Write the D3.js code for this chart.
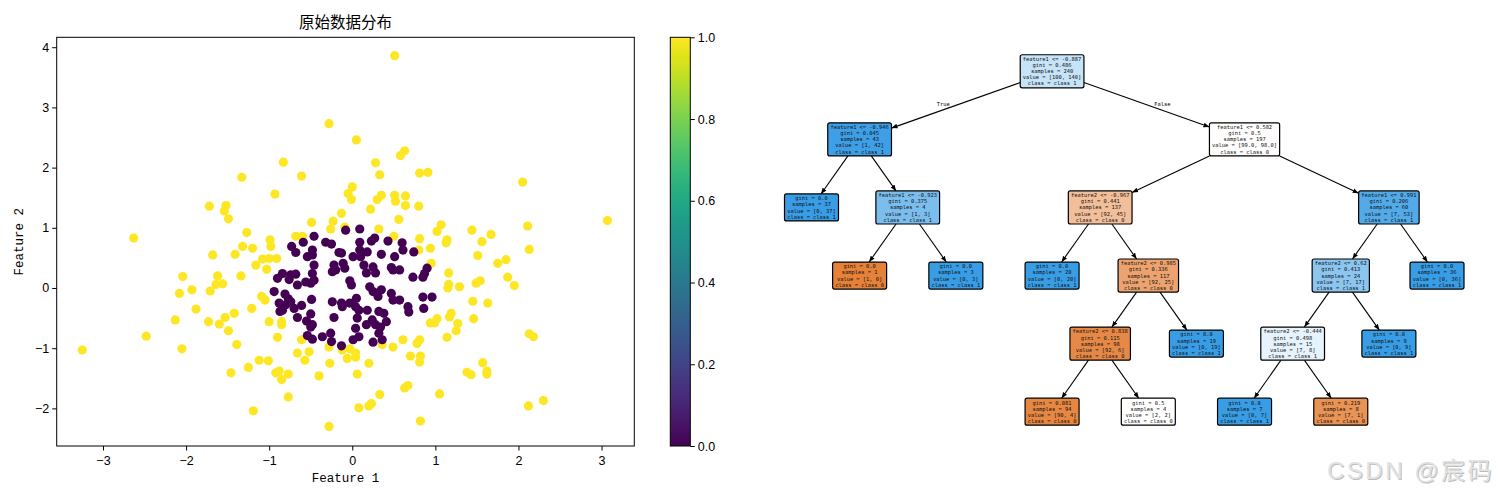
<!DOCTYPE html>
<html>
<head>
<meta charset="utf-8">
<script src="https://cdn.jsdelivr.net/npm/d3@7"></script>
<style>
    body { margin: 0; background: #fff; }
    svg { display: block; }
</style>
</head>
<body>
<div id="chart"></div>
<script>
// ---- scatter data ----
const class0Points = [
    [-0.46,0.86],[-0.59,0.76],[-0.73,0.69],[-0.32,0.76],[-0.25,0.73],[-0.08,0.96],[0.09,0.98],[0.09,0.76],
    [0.23,0.78],[0.27,0.83],[0.43,0.78],[0.60,0.75],[0.09,0.63],[0.10,0.52],[0.01,0.52],[0.61,0.63],
    [0.74,0.60],[0.35,0.56],[0.51,0.52],[-0.13,0.58],[-0.11,0.41],[-0.09,0.33],[0.14,0.38],[0.17,0.25],
    [0.25,0.35],[0.28,0.25],[0.47,0.34],[0.49,0.30],[0.57,0.30],[0.90,0.33],[0.87,0.24],[0.73,0.18],
    [0.85,0.18],[-0.03,0.12],[-0.01,0.05],[0.21,0.02],[0.25,-0.06],[0.35,-0.03],[0.31,-0.14],[0.47,-0.09],
    [0.49,-0.20],[0.57,-0.20],[0.85,-0.15],[0.96,-0.15],[0.86,-0.34],[0.67,-0.31],[0.68,-0.40],[-0.13,-0.25],
    [-0.03,-0.25],[0.05,-0.17],[0.04,-0.31],[0.08,-0.37],[0.06,-0.50],[0.32,-0.39],[0.38,-0.42],[0.24,-0.53],
    [0.28,-0.61],[0.41,-0.56],[0.34,-0.65],[0.32,-0.75],[0.17,-0.61],[0.04,-0.67],[0.08,-0.81],[0.01,-0.86],
    [0.25,-0.90],[-0.13,-0.96],[-0.68,0.59],[-0.48,0.63],[-0.54,0.52],[-0.48,0.55],[-0.16,0.59],[-0.46,0.38],
    [-0.22,0.38],[-0.20,0.30],[-0.84,0.24],[-0.90,0.16],[-0.74,0.22],[-0.76,0.14],[-0.68,0.23],[-0.66,0.05],
    [-0.48,0.24],[-0.56,0.10],[-0.50,0.08],[-0.46,0.13],[-0.94,-0.06],[-0.81,-0.10],[-0.88,-0.25],[-0.80,-0.28],
    [-0.74,-0.23],[-0.84,-0.37],[-0.87,-0.39],[-0.70,-0.34],[-0.61,-0.29],[-0.49,-0.19],[-0.24,-0.23],[-0.12,-0.31],
    [-0.66,-0.49],[-0.50,-0.43],[-0.55,-0.55],[-0.50,-0.65],[-0.48,-0.61],[-0.22,-0.49],[-0.54,-0.79],[-0.48,-0.85],
    [-0.36,-0.81],[-0.26,-0.75],[-0.25,-0.89],[0.18,0.60],[-0.24,0.27],[-0.77,-0.18],[0.18,-0.37],[0.36,-0.86]
];

const class1Points = [
    [-0.28,2.73],[-0.83,2.09],[-1.33,1.84],[-0.61,1.86],[-0.93,1.56],[-1.72,1.36],[-1.52,1.37],[-1.54,1.28],
    [-1.49,1.15],[-2.63,0.83],[-1.27,0.92],[-0.49,1.09],[-0.23,1.11],[-0.13,1.24],[-0.05,1.57],[-0.26,0.98],
    [-0.09,1.01],[-0.68,0.86],[-0.60,0.86],[-0.99,0.80],[-1.32,0.69],[-1.20,0.66],[-0.98,0.69],
    [0.51,3.86],[0.05,2.46],[0.63,2.28],[0.58,2.20],[0.28,2.08],[0.33,1.88],[0.81,1.91],[0.91,1.92],
    [2.05,1.76],[0.00,1.68],[-0.01,1.47],[0.35,1.54],[0.30,1.47],[0.51,1.54],[0.52,1.44],[0.64,1.53],
    [0.64,1.37],[0.80,1.36],[0.22,1.31],[0.56,1.14],[3.07,1.12],[2.11,1.03],[1.07,1.05],[1.02,0.94],
    [1.44,0.96],[1.67,0.89],[1.56,0.77],[1.14,0.80],[1.13,0.75],[0.81,0.82],[0.32,0.98],[0.50,0.86],
    [0.94,0.66],[2.13,0.64],[0.80,0.63],[1.51,0.54],[1.75,0.41],[1.85,0.47],[0.95,0.41],[1.16,0.25],
    [1.87,0.18],[1.95,0.04],[1.49,0.08],[1.54,0.12],[1.16,0.06],[1.15,0.00],[1.29,0.02],[1.45,-0.22],
    [1.63,-0.25],[1.19,-0.42],[1.17,-0.48],[1.46,-0.51],[1.02,-0.51],[0.94,-0.58],[0.99,-0.58],[1.27,-0.59],
    [1.25,-0.71],[2.13,-0.76],[2.18,-0.81],[1.14,-0.82],[0.61,-0.86],[0.81,-0.86],[0.78,-0.92],[0.36,-0.94],
    [0.49,-0.98],[-0.03,-1.01],[0.04,-1.08],[-0.06,-1.17],[0.04,-1.15],[0.70,-1.13],[0.82,-1.13],[0.81,-1.23],
    [0.20,-1.25],[1.57,-1.24],[1.38,-1.40],[1.43,-1.44],[1.62,-1.38],[1.62,-1.43],[0.06,-1.43],[0.67,-1.62],
    [0.63,-1.66],[1.05,-1.76],[0.33,-1.77],[0.23,-1.92],[0.20,-1.96],[0.08,-1.99],[2.30,-1.87],[2.12,-1.96],
    [0.82,-2.21],[-1.68,0.55],[-1.41,0.56],[-1.08,0.48],[-1.00,0.49],[-0.91,0.49],[-1.16,0.38],[-1.03,0.31],
    [-2.04,0.19],[-1.62,0.20],[-1.64,0.06],[-1.56,0.07],[-1.34,0.20],[-1.93,-0.03],[-2.08,-0.09],[-1.71,-0.05],
    [-1.09,-0.14],[-1.05,-0.20],[-1.88,-0.35],[-1.21,-0.34],[-1.42,-0.42],[-1.53,-0.49],[-1.60,-0.60],[-2.13,-0.53],
    [-1.73,-0.56],[-1.00,-0.56],[-0.85,-0.56],[-0.85,-0.61],[-1.49,-0.71],[-2.48,-0.80],[-0.90,-0.82],[-1.39,-0.94],
    [-3.25,-1.03],[-2.05,-1.01],[-0.61,-0.86],[-0.28,-0.98],[-0.12,-1.03],[-0.66,-1.08],[-0.52,-1.06],[-0.57,-1.20],
    [-1.12,-1.20],[-1.01,-1.21],[-0.27,-1.25],[-1.25,-1.32],[-1.46,-1.41],[-0.92,-1.41],[-0.88,-1.38],[-0.85,-1.52],
    [-0.77,-1.43],[-0.40,-1.46],[-0.77,-1.81],[-1.19,-2.04],[-0.28,-2.30]
];

const xTicks = [-3, -2, -1, 0, 1, 2, 3];
const yTicks = [-2, -1, 0, 1, 2, 3, 4];
const colorbarTicks = [0.0, 0.2, 0.4, 0.6, 0.8, 1.0];

// ---- decision tree (sklearn tree_ style arrays, preorder) ----
const childrenLeft  = [1, 2, -1, 4, -1, -1, 7, 8, -1, 10, 11, -1, -1, -1, 15, 16, 17, -1, -1, -1, -1];
const childrenRight = [6, 3, -1, 5, -1, -1, 14, 9, -1, 13, 12, -1, -1, -1, 20, 19, 18, -1, -1, -1, -1];
const nodeFeature   = ['feature1', 'feature1', null, 'feature1', null, null, 'feature1', 'feature2', null,
                       'feature2', 'feature2', null, null, null, 'feature1', 'feature2', 'feature2', null, null, null, null];
const nodeThreshold = [-0.887, -0.946, null, -0.923, null, null, 0.582, -0.967, null,
                       0.985, 0.838, null, null, null, 0.991, 0.62, -0.444, null, null, null, null];
const nodeGini      = ['0.486', '0.045', '0.0', '0.375', '0.0', '0.0', '0.5', '0.441', '0.0',
                       '0.336', '0.115', '0.081', '0.5', '0.0', '0.206', '0.413', '0.498', '0.0', '0.219', '0.0', '0.0'];
const nodeSamples   = [240, 43, 37, 4, 1, 3, 197, 137, 20, 117, 98, 94, 4, 19, 60, 24, 15, 7, 8, 9, 36];
const nodeValue     = [[100, 140], [1, 42], [0, 37], [1, 3], [1, 0], [0, 3], [99, 98], [92, 45], [0, 20],
                       [92, 25], [92, 6], [90, 4], [2, 2], [0, 19], [7, 53], [7, 17], [7, 8], [0, 7], [7, 1], [0, 9], [0, 36]];
const nodeValueText = ['[100, 140]', '[1, 42]', '[0, 37]', '[1, 3]', '[1, 0]', '[0, 3]', '[99.0, 98.0]', '[92, 45]', '[0, 20]',
                       '[92, 25]', '[92, 6]', '[90, 4]', '[2, 2]', '[0, 19]', '[7, 53]', '[7, 17]', '[7, 8]', '[0, 7]', '[7, 1]', '[0, 9]', '[0, 36]'];
const classColors = [[229, 129, 57], [57, 157, 229]];

const svg = d3.select('#chart').append('svg')
    .attr('width', 1500)
    .attr('height', 500);

/**
 * Scatter plot with viridis colour bar
 */
function drawScatter() {
    const plot = { left: 56.7, right: 634.3, top: 37.3, bottom: 446 };
    const x = d3.scaleLinear().domain([-3.557, 3.394]).range([plot.left, plot.right]);
    const y = d3.scaleLinear().domain([-2.625, 4.165]).range([plot.bottom, plot.top]);
    const tickFont = 'Liberation Sans, Arial, sans-serif';

    const points = class1Points.map(p => ({ x: p[0], y: p[1], c: 1 }))
        .concat(class0Points.map(p => ({ x: p[0], y: p[1], c: 0 })));

    svg.append('g')
        .selectAll('circle')
        .data(points)
        .enter()
        .append('circle')
        .attr('cx', d => x(d.x))
        .attr('cy', d => y(d.y))
        .attr('r', 4.6)
        .attr('fill', d => d3.interpolateViridis(d.c));

    // frame
    svg.append('rect')
        .attr('x', plot.left)
        .attr('y', plot.top)
        .attr('width', plot.right - plot.left)
        .attr('height', plot.bottom - plot.top)
        .attr('fill', 'none')
        .attr('stroke', '#000')
        .attr('stroke-width', 1);

    const xAxis = svg.append('g')
        .attr('transform', `translate(0,${plot.bottom})`)
        .call(d3.axisBottom(x).tickValues(xTicks).tickSize(4.5).tickSizeOuter(0)
            .tickFormat(d => d < 0 ? '\u2212' + Math.abs(d) : d));
    xAxis.select('.domain').remove();
    xAxis.selectAll('text').style('font-size', '12.5px').style('font-family', tickFont).attr('dy', '0.95em');

    const yAxis = svg.append('g')
        .attr('transform', `translate(${plot.left},0)`)
        .call(d3.axisLeft(y).tickValues(yTicks).tickSize(4.5).tickSizeOuter(0)
            .tickFormat(d => d < 0 ? '\u2212' + Math.abs(d) : d));
    yAxis.select('.domain').remove();
    yAxis.selectAll('text').style('font-size', '12.5px').style('font-family', tickFont);

    // title and axis labels
    svg.append('text')
        .attr('x', (plot.left + plot.right) / 2)
        .attr('y', 28)
        .attr('text-anchor', 'middle')
        .style('font-family', 'Noto Sans CJK SC, sans-serif')
        .style('font-size', '15.5px')
        .text('原始数据分布');

    svg.append('text')
        .attr('x', (plot.left + plot.right) / 2)
        .attr('y', 482)
        .attr('text-anchor', 'middle')
        .style('font-family', 'Liberation Mono, monospace')
        .style('font-size', '12.5px')
        .text('Feature 1');

    svg.append('text')
        .attr('transform', `translate(23,${(plot.top + plot.bottom) / 2}) rotate(-90)`)
        .attr('text-anchor', 'middle')
        .style('font-family', 'Liberation Mono, monospace')
        .style('font-size', '12.5px')
        .text('Feature 2');

    // colour bar
    const cb = { left: 670.3, right: 690.3, top: 37.3, bottom: 446 };
    const cScale = d3.scaleLinear().domain([0, 1]).range([cb.bottom, cb.top]);
    const grad = svg.append('defs').append('linearGradient')
        .attr('id', 'viridis')
        .attr('x1', 0).attr('y1', 1).attr('x2', 0).attr('y2', 0);
    d3.range(0, 1.0001, 0.05).forEach(t => {
        grad.append('stop').attr('offset', t).attr('stop-color', d3.interpolateViridis(t));
    });
    svg.append('rect')
        .attr('x', cb.left)
        .attr('y', cb.top)
        .attr('width', cb.right - cb.left)
        .attr('height', cb.bottom - cb.top)
        .attr('fill', 'url(#viridis)')
        .attr('stroke', '#000')
        .attr('stroke-width', 1);

    const cAxis = svg.append('g')
        .attr('transform', `translate(${cb.right},0)`)
        .call(d3.axisRight(cScale).tickValues(colorbarTicks).tickSize(4.5).tickFormat(d3.format('.1f')));
    cAxis.select('.domain').remove();
    cAxis.selectAll('text').style('font-size', '12.5px').style('font-family', tickFont);
}

/**
 * Decision tree in the style of sklearn plot_tree
 */
function drawTree() {
    // build nested structure from the flat arrays
    const build = i => {
        const node = { id: i };
        if (childrenLeft[i] !== -1) {
            node.children = [build(childrenLeft[i]), build(childrenRight[i])];
        }
        return node;
    };
    const root = d3.hierarchy(build(0));
    d3.tree().nodeSize([1, 1]).separation(() => 1)(root);

    const nodes = root.descendants();
    const x = d3.scaleLinear()
        .domain(d3.extent(nodes, d => d.x))
        .range([811.5, 1437]);
    const y = d3.scaleLinear()
        .domain([0, 5])
        .range([71.3, 411.7]);

    const lineH = 6.1;
    const fontSize = 5.4;
    const g = svg.append('g').style('font-family', 'DejaVu Sans Mono, Liberation Mono, monospace');

    const nodeLines = i => {
        const lines = [];
        if (nodeFeature[i]) lines.push(`${nodeFeature[i]} <= ${nodeThreshold[i]}`);
        lines.push(`gini = ${nodeGini[i]}`);
        lines.push(`samples = ${nodeSamples[i]}`);
        lines.push(`value = ${nodeValueText[i]}`);
        const cls = nodeValue[i][0] >= nodeValue[i][1] ? 0 : 1;
        lines.push(`class = class ${cls}`);
        return lines;
    };

    const nodeColor = i => {
        const v = nodeValue[i];
        const total = v[0] + v[1];
        const p = v.map(n => n / total);
        const cls = v[0] >= v[1] ? 0 : 1;
        const sorted = p.slice().sort((a, b) => b - a);
        const alpha = (sorted[0] - sorted[1]) / (1 - sorted[1]);
        const c = classColors[cls].map(ch => Math.round(alpha * ch + (1 - alpha) * 255));
        return `rgb(${c[0]},${c[1]},${c[2]})`;
    };

    // measure each box first
    nodes.forEach(d => {
        d.lines = nodeLines(d.data.id);
        d.cx = x(d.x);
        d.cy = y(d.depth);
        const maxChars = d3.max(d.lines, l => l.length);
        d.w = maxChars * fontSize * 0.6 + 5.4;
        d.h = d.lines.length * lineH + 2.6;
    });

    // clip a centre-to-centre line at a box border
    const clip = (from, to, box) => {
        const dx = to.cx - from.cx, dy = to.cy - from.cy;
        const tx = dx === 0 ? Infinity : (box.w / 2) / Math.abs(dx);
        const ty = dy === 0 ? Infinity : (box.h / 2) / Math.abs(dy);
        const t = Math.min(tx, ty);
        return [from.cx + dx * t, from.cy + dy * t];
    };

    svg.append('defs').append('marker')
        .attr('id', 'arrow')
        .attr('viewBox', '0 0 10 10')
        .attr('refX', 10)
        .attr('refY', 5)
        .attr('markerWidth', 6)
        .attr('markerHeight', 6)
        .attr('markerUnits', 'userSpaceOnUse')
        .attr('orient', 'auto')
        .append('path')
        .attr('d', 'M0,1 L10,5 L0,9 Z')
        .attr('fill', '#000');

    root.links().forEach(link => {
        const s = link.source, t = link.target;
        const p0 = clip(s, t, s);
        const p1 = clip(t, s, t);
        g.append('line')
            .attr('x1', p0[0]).attr('y1', p0[1])
            .attr('x2', p1[0]).attr('y2', p1[1])
            .attr('stroke', '#000')
            .attr('stroke-width', 1.1)
            .attr('marker-end', 'url(#arrow)');

        // True / False labels on the root's edges
        if (s.depth === 0) {
            const isLeft = s.children[0] === t;
            g.append('text')
                .attr('x', (s.cx + t.cx) / 2 + (isLeft ? -6 : 6))
                .attr('y', (s.cy + t.cy) / 2 - 1)
                .attr('text-anchor', isLeft ? 'end' : 'start')
                .attr('dominant-baseline', 'middle')
                .style('font-size', fontSize + 'px')
                .text(isLeft ? 'True' : 'False');
        }
    });

    const boxes = g.selectAll('.node')
        .data(nodes)
        .enter()
        .append('g')
        .attr('class', 'node')
        .attr('transform', d => `translate(${d.cx},${d.cy})`);

    boxes.append('rect')
        .attr('x', d => -d.w / 2)
        .attr('y', d => -d.h / 2)
        .attr('width', d => d.w)
        .attr('height', d => d.h)
        .attr('rx', 2)
        .attr('fill', d => nodeColor(d.data.id))
        .attr('stroke', '#000')
        .attr('stroke-width', 1.2);

    boxes.each(function(d) {
        const sel = d3.select(this);
        d.lines.forEach((line, k) => {
            sel.append('text')
                .attr('x', 0)
                .attr('y', (k - (d.lines.length - 1) / 2) * lineH)
                .attr('text-anchor', 'middle')
                .attr('dominant-baseline', 'central')
                .style('font-size', fontSize + 'px')
                .style('fill', '#111')
                .text(line);
        });
    });
}

drawScatter();
drawTree();

// watermark
const watermark = svg.append('g')
    .style('font-family', 'Liberation Sans, Noto Sans CJK SC, sans-serif')
    .style('font-size', '24px')
    .style('letter-spacing', '2.5px')
    .attr('text-anchor', 'end');
watermark.append('text')
    .attr('x', 1495)
    .attr('y', 479.5)
    .style('fill', '#bdbdbd')
    .text('CSDN @宸码');
watermark.append('text')
    .attr('x', 1494)
    .attr('y', 478.5)
    .style('fill', '#e2e2e2')
    .text('CSDN @宸码');
</script>
</body>
</html>
